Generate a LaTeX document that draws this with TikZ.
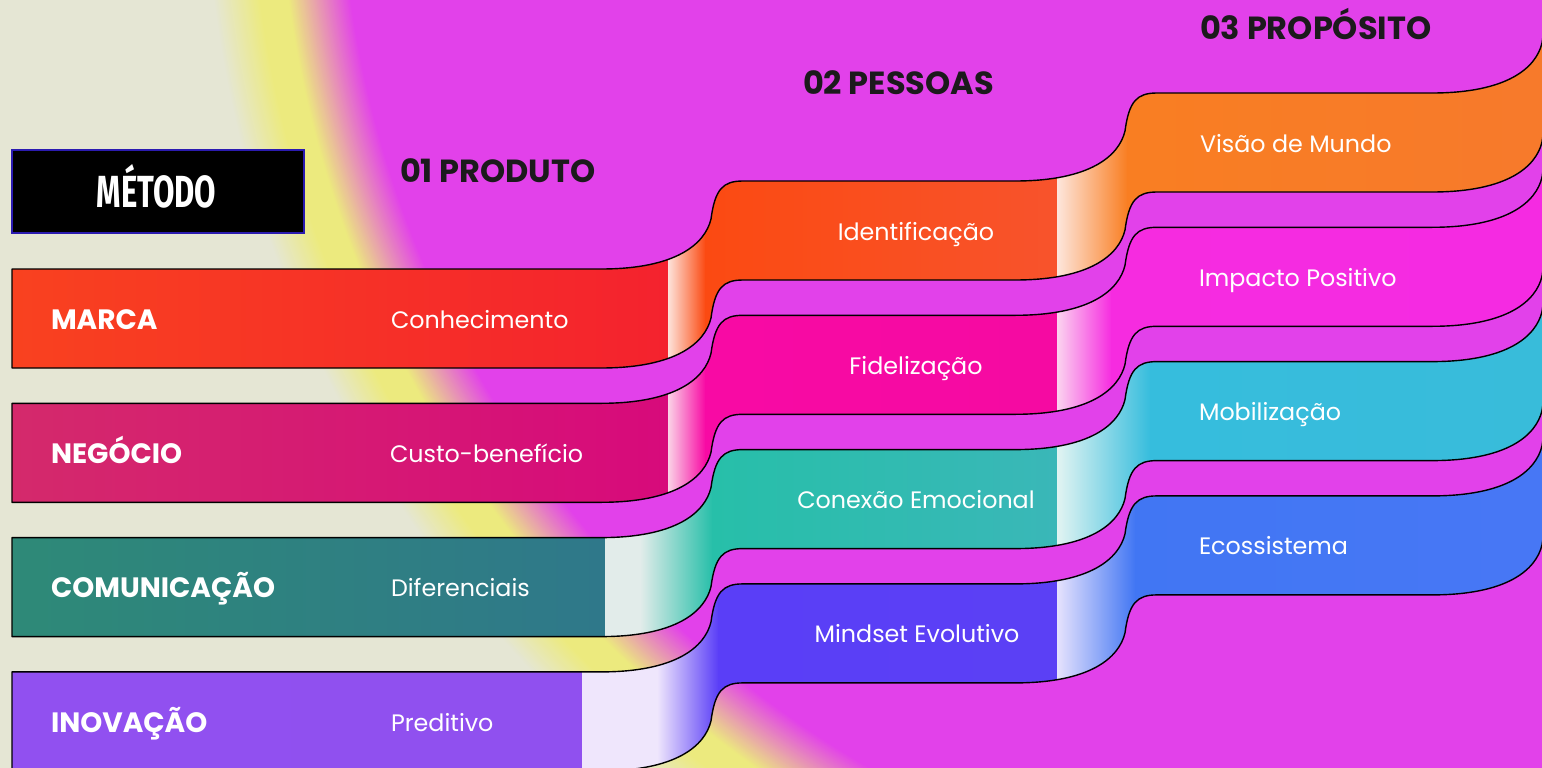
\documentclass[tikz,border=0pt]{standalone}
\usepackage{fontspec}
\usepackage{graphicx}
\setmainfont{Poppins}
\newfontfamily\metfont{Fira Sans}
\definecolor{bgmag}{HTML}{E241EA}
\definecolor{bgyel}{HTML}{ECEA7E}
\definecolor{bgbei}{HTML}{E5E6D4}
\definecolor{headc}{HTML}{1C1A1C}
\definecolor{metborder}{HTML}{2B1BB0}
% ribbon 1
\definecolor{ma}{HTML}{F9421F}\definecolor{mb}{HTML}{F4222E}\definecolor{ml}{HTML}{FDE2DA}
\definecolor{ia}{HTML}{FB4A12}\definecolor{ib}{HTML}{F8532C}\definecolor{il}{HTML}{FDE6DC}
\definecolor{va}{HTML}{F97E22}\definecolor{vb}{HTML}{F6782F}
% ribbon 2
\definecolor{na}{HTML}{D42A6B}\definecolor{nb}{HTML}{D70A7B}\definecolor{nl}{HTML}{FAD2E6}
\definecolor{fa}{HTML}{F80AA4}\definecolor{fb}{HTML}{F50AA2}\definecolor{fl}{HTML}{FBD3EF}
\definecolor{pa}{HTML}{F62BE0}\definecolor{pb}{HTML}{F42AE3}
% ribbon 3
\definecolor{ca}{HTML}{2E8A77}\definecolor{cb}{HTML}{2F788A}\definecolor{cl}{HTML}{E2ECEA}
\definecolor{ea}{HTML}{27BFA9}\definecolor{eb}{HTML}{3AB7B8}\definecolor{el}{HTML}{E2F4F2}
\definecolor{ba}{HTML}{36BDDD}\definecolor{bb}{HTML}{39BBD9}
% ribbon 4
\definecolor{oa}{HTML}{9150F0}\definecolor{ob}{HTML}{9050EF}\definecolor{ol}{HTML}{EFE6FC}
\definecolor{da}{HTML}{5A3EF7}\definecolor{db}{HTML}{5B40F5}\definecolor{dl}{HTML}{E6E2FD}
\definecolor{sa}{HTML}{4176F3}\definecolor{sb}{HTML}{4A78F6}

% S-curve rising 88 units, vertical part at x=#1, start height #2
\newcommand\upcurve[2]{-- (#1-110,#2) .. controls (#1-35,#2) and (#1-6,#2-25) .. (#1,#2-50) .. controls (#1+4,#2-80) and (#1+12,#2-88) .. (#1+32,#2-88)}
\newcommand\downcurve[2]{-- (#1+32,#2-88) .. controls (#1+12,#2-88) and (#1+4,#2-80) .. (#1,#2-50) .. controls (#1-6,#2-25) and (#1-35,#2) .. (#1-110,#2)}
\newcommand\ribbonshape[1]{(12,#1) \upcurve{711}{#1} \upcurve{1125}{#1-88} \upcurve{1542}{#1-176} -- (1700,#1-264) -- (1700,#1+99-264) \downcurve{1542}{#1+99-176} \downcurve{1125}{#1+99-88} \downcurve{711}{#1+99} -- (12,#1+99) -- cycle}

\tikzset{
  every node/.style={inner sep=0pt, outer sep=0pt},
  boldlabel/.style={anchor=base west, text=white, font=\fontsize{28}{28}\selectfont\bfseries},
  itemlabel/.style={anchor=base west, text=white, font=\fontsize{23.8}{24}\selectfont},
  midlabel/.style={anchor=base, text=white, font=\fontsize{23.8}{24}\selectfont},
  headlabel/.style={anchor=base west, text=headc, font=\fontsize{32}{32}\selectfont\bfseries},
  ribbonline/.style={draw=black, line width=1.4pt, line join=round},
}

\begin{document}
\begin{tikzpicture}[x=1pt,y=-1pt]
\useasboundingbox (0,0) rectangle (1542,768);
\begin{scope}
\clip (0,0) rectangle (1542,768);
% background: beige, yellow glow, magenta disc
\fill[bgbei] (0,0) rectangle (1542,768);
\foreach \i in {0,...,30}{
  \pgfmathsetmacro\rr{1196-\i*46/30}
  \pgfmathsetmacro\pp{\i*100/30}
  \fill[bgyel!\pp!bgbei] (1400,-150) circle[radius=\rr];
}
\foreach \i in {0,...,50}{
  \pgfmathsetmacro\rr{1122-\i*62/50}
  \pgfmathsetmacro\pp{\i*100/50}
  \fill[bgmag!\pp!bgyel] (1400,-150) circle[radius=\rr];
}

% ribbon 1
\begin{scope}
\clip \ribbonshape{269};
\shade[left color=ma,right color=mb] (0,-400) rectangle (668.5,800);
\shade[left color=ml,right color=ia] (668,-400) rectangle (705.5,800);
\shade[left color=ia,right color=ib] (705,-400) rectangle (1057.5,800);
\shade[left color=il,right color=va] (1057,-400) rectangle (1127.5,800);
\shade[left color=va,right color=vb] (1127,-400) rectangle (1700,800);
\end{scope}
% ribbon 2
\begin{scope}
\clip \ribbonshape{403.3};
\shade[left color=na,right color=nb] (0,-400) rectangle (668.5,800);
\shade[left color=nl,right color=fa] (668,-400) rectangle (705.5,800);
\shade[left color=fa,right color=fb] (705,-400) rectangle (1057.5,800);
\shade[left color=fl,right color=pa] (1057,-400) rectangle (1112,800);
\shade[left color=pa,right color=pb] (1111.5,-400) rectangle (1700,800);
\end{scope}
% ribbon 3
\begin{scope}
\clip \ribbonshape{537.6};
\shade[left color=ca,right color=cb] (0,-400) rectangle (605.5,800);
\fill[cl] (605,-400) rectangle (640.5,800);
\shade[left color=cl,right color=ea] (640,-400) rectangle (712.5,800);
\shade[left color=ea,right color=eb] (712,-400) rectangle (1057.5,800);
\shade[left color=el,right color=ba] (1057,-400) rectangle (1150.5,800);
\shade[left color=ba,right color=bb] (1150,-400) rectangle (1700,800);
\end{scope}
% ribbon 4
\begin{scope}
\clip \ribbonshape{671.9};
\shade[left color=oa,right color=ob] (0,-400) rectangle (582.5,800);
\fill[ol] (582,-400) rectangle (657.5,800);
\shade[left color=ol,right color=da] (657,-400) rectangle (718.5,800);
\shade[left color=da,right color=db] (718,-400) rectangle (1057.5,800);
\shade[left color=dl,right color=sa] (1057,-400) rectangle (1135.5,800);
\shade[left color=sa,right color=sb] (1135,-400) rectangle (1700,800);
\end{scope}

\draw[ribbonline] \ribbonshape{269};
\draw[ribbonline] \ribbonshape{403.3};
\draw[ribbonline] \ribbonshape{537.6};
\draw[ribbonline] \ribbonshape{671.9};
\end{scope}

% MÉTODO box
\node[draw=metborder, line width=2.2pt, fill=black, minimum width=292pt, minimum height=83pt] (metbox) at (158,191.5) {};
\node[anchor=base, text=white, font=\metfont\bfseries\fontsize{45}{45}\selectfont] (met) at (156.5,207.7) {\scalebox{0.69}[1]{MÉTODO}};

% headings
\node[headlabel] (h1) at (400,182) {01 PRODUTO};
\node[headlabel] (h2) at (803,94) {02 PESSOAS};
\node[headlabel] (h3) at (1200,40) {03 PROPÓSITO};

% stage 1
\node[boldlabel] (marca) at (51,329) {MARCA};
\node[boldlabel] (negocio) at (51,463.3) {NEGÓCIO};
\node[boldlabel] (comun) at (51,597.6) {COMUNICAÇÃO};
\node[boldlabel] (inov) at (51,732) {INOVAÇÃO};
\node[itemlabel] (conhec) at (391,328) {Conhecimento};
\node[itemlabel] (custo) at (390,462.3) {Custo-benefício};
\node[itemlabel] (difer) at (391,596.6) {Diferenciais};
\node[itemlabel] (predit) at (391,731) {Preditivo};
% stage 2
\node[midlabel] (ident) at (916,240) {Identificação};
\node[midlabel] (fidel) at (916,374) {Fidelização};
\node[midlabel] (conex) at (916,508.5) {Conexão Emocional};
\node[midlabel] (mind) at (917,642.7) {Mindset Evolutivo};
% stage 3
\node[itemlabel] (visao) at (1200,152) {Visão de Mundo};
\node[itemlabel] (impac) at (1199,286) {Impacto Positivo};
\node[itemlabel] (mobil) at (1199,420.5) {Mobilização};
\node[itemlabel] (ecoss) at (1199,554.7) {Ecossistema};
\end{tikzpicture}
\end{document}
